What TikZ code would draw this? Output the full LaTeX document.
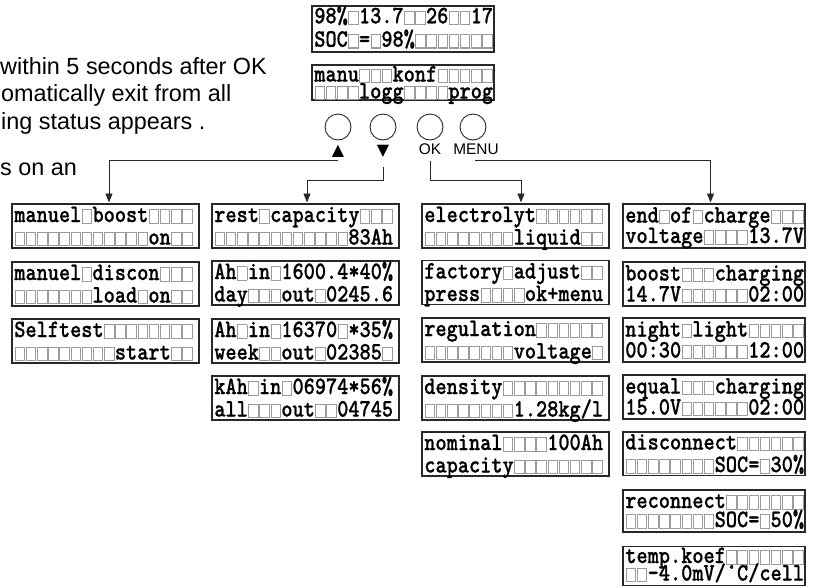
\documentclass[tikz,border=0pt]{standalone}
\usepackage{fontspec}
\usepackage{xcolor}
\usetikzlibrary{arrows.meta}
\newfontfamily\sansf{Liberation Sans}
\newfontfamily\symf{DejaVu Sans}
\newfontfamily\lcdf{lmmonolt10-bold}[Extension=.otf, FakeBold=0.8]
\definecolor{lcdgray}{RGB}{155,155,155}
\definecolor{ink}{RGB}{40,40,40}
\setlength{\fboxsep}{0pt}
\setlength{\fboxrule}{1.1pt}
\newcommand\lcdfont{\lcdf\fontsize{25}{25}\selectfont}
\newcommand\e{\setbox0\hbox{M}\makebox[\wd0][c]{\textcolor{lcdgray}{\raisebox{-0.7pt}{\fbox{\rule{0pt}{12.3pt}\rule{10.1pt}{0pt}}}}}}
\newcommand\lcdline[1]{\resizebox{178.8pt}{\height}{\lcdfont #1}}
% name, x, y, width, height, baseline of row 2 (from top), row distance, row 1, row 2
\newcommand\lcdx[9]{%
  \node[lcdbox, minimum width=#4pt, minimum height=#5pt] (#1) at (#2,#3) {};
  \node[lcdtext] (#1-t) at ([xshift=2.3pt,yshift=-#6pt]#1.north west)
    {\vbox{\baselineskip=#7pt\lineskiplimit=-\maxdimen\hbox{\lcdline{#8}}\hbox{\lcdline{#9}}}};}
\newcommand\lcd[6]{\lcdx{#1}{#2}{#3}{#4}{44}{40.5}{22.5}{#5}{#6}}
\begin{document}
\begin{tikzpicture}[x=1pt,y=-1pt,
  lcdbox/.style={draw=ink, line width=1.1pt, anchor=north west, inner sep=0pt, outer sep=0pt},
  lcdtext/.style={anchor=base west, inner sep=0pt, outer sep=0pt},
  note/.style={anchor=base west, inner sep=0pt, font=\sansf\fontsize{23.4}{23.4}\selectfont},
  btn/.style={draw=ink, line width=0.9pt, circle, minimum size=26pt, inner sep=0pt},
  keylbl/.style={inner sep=0pt, anchor=base, font=\sansf\fontsize{15.4}{15.4}\selectfont},
  sym/.style={inner sep=0pt, font=\symf\fontsize{16}{16}\selectfont},
  conn/.style={draw=ink, line width=0.9pt, -{Triangle[width=7pt,length=9pt]}, shorten >=1.5pt}
]
\useasboundingbox (0,0) rectangle (813,587);

% explanatory text (cut at the left edge)
\node[note] (n1) at (0,74) {within 5 seconds after OK};
\node[note] (n2) at (1,101.5) {omatically exit from all};
\node[note] (n3) at (1,129) {ing status appears .};
\node[note] (n4) at (0,175.7) {s on an};

% top displays
\lcdx{t1}{312}{6}{182}{46}{40.7}{23.4}{98\%\e13.7\e\e26\e\e17}{SOC\e=\e98\%\e\e\e\e\e\e\e}
\lcdx{t2}{312}{65}{182}{35}{33.5}{17}{manu\e\e\e konf\e\e\e\e\e}{\e\e\e\e logg\e\e\e\e prog}

% buttons
\node[btn] (b1) at (338,127) {};
\node[btn] (b2) at (383,127) {};
\node[btn] (b3) at (430,127) {};
\node[btn] (b4) at (473,127) {};
\node[sym] (up) at (338,151) {▲};
\node[sym] (dn) at (383,151) {▼};
\node[keylbl] (ok) at (430,154.3) {OK};
\node[keylbl] (menu) at (476,154.3) {MENU};

% column 1
\lcd{c1a}{12}{204}{187}{manuel\e boost\e\e\e\e}{\e\e\e\e\e\e\e\e\e\e\e\e on\e\e}
\lcd{c1b}{12}{262}{187}{manuel\e discon\e\e\e}{\e\e\e\e\e\e\e load\e on\e\e}
\lcd{c1c}{12}{319}{187}{Selftest\e\e\e\e\e\e\e\e}{\e\e\e\e\e\e\e\e\e start\e\e}

% column 2
\lcd{c2a}{212}{204}{187}{rest\e capacity\e\e\e}{\e\e\e\e\e\e\e\e\e\e\e\e83Ah}
\lcd{c2b}{212}{261}{187}{Ah\e in\e1600.4*40\%}{day\e\e\e out\e0245.6}
\lcd{c2c}{212}{319}{187}{Ah\e in\e16370\e*35\%}{week\e\e out\e02385\e}
\lcd{c2d}{212}{376}{187}{kAh\e in\e06974*56\%}{all\e\e\e out\e\e04745}

% column 3
\lcd{c3a}{422}{204}{187}{electrolyt\e\e\e\e\e\e}{\e\e\e\e\e\e\e\e liquid\e\e}
\lcd{c3b}{422}{260.5}{187}{factory\e adjust\e\e}{press\e\e\e\e ok+menu}
\lcd{c3c}{422}{318}{187}{regulation\e\e\e\e\e\e}{\e\e\e\e\e\e\e\e voltage\e}
\lcd{c3d}{422}{376}{187}{density\e\e\e\e\e\e\e\e\e}{\e\e\e\e\e\e\e\e1.28kg/l}
\lcd{c3e}{422}{432}{187}{nominal\e\e\e\e100Ah}{capacity\e\e\e\e\e\e\e\e}

% column 4
\lcdx{c4a}{623}{204}{182}{44}{39}{20.5}{end\e of\e charge\e\e\e}{voltage\e\e\e\e13.7V}
\lcdx{c4b}{623}{262}{182}{44}{39.5}{21}{boost\e\e\e charging}{14.7V\e\e\e\e\e\e02:00}
\lcdx{c4c}{623}{318}{182}{44}{39.5}{21}{night\e light\e\e\e\e\e}{00:30\e\e\e\e\e\e12:00}
\lcdx{c4d}{623}{375}{182}{44}{39.5}{21}{equal\e\e\e charging}{15.0V\e\e\e\e\e\e02:00}
\lcdx{c4e}{623}{432}{182}{43.5}{40}{22.5}{disconnect\e\e\e\e\e\e}{\e\e\e\e\e\e\e\e SOC=\e30\%}
\lcdx{c4f}{623}{490}{182}{42}{37}{19}{reconnect\e\e\e\e\e\e\e}{\e\e\e\e\e\e\e\e SOC=\e50\%}
\lcdx{c4g}{623}{546.5}{182}{39}{34}{17.5}{temp.koef\e\e\e\e\e\e\e}{\e\e-4.0mV/\textdegree C/cell}

% connectors
\coordinate (row) at (0,180);
\draw[conn] ([yshift=-3pt]up.south) -| ([xshift=3.5pt]c1a.north);
\draw[conn] ([yshift=-10pt]dn.south) -- (dn.south |- row) -| ([xshift=1.5pt]c2a.north);
\draw[conn] ([yshift=-6pt]ok.south) -- (ok.south |- row) -| ([xshift=5.5pt]c3a.north);
\draw[conn] ([xshift=-1pt,yshift=-6pt]menu.south) -| ([xshift=-3.5pt]c4a.north);
\end{tikzpicture}
\end{document}
